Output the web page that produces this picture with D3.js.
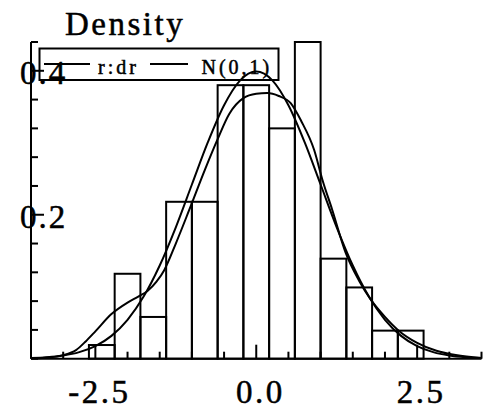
<!DOCTYPE html>
<html>
<head>
<meta charset="utf-8">
<script src="https://cdn.jsdelivr.net/npm/d3@7"></script>
<style>
  html, body { margin: 0; padding: 0; background: #fff; }
  svg { display: block; }
  text { font-family: "Liberation Serif", "DejaVu Serif", serif; fill: #000; stroke: #000; stroke-width: 0.5px; }
</style>
</head>
<body>
<svg id="chart" width="492" height="411"></svg>
<script>
// ---- data ----
const binEdges = [-2.6, -2.2, -1.8, -1.4, -1.0, -0.6, -0.2, 0.2, 0.6, 1.0, 1.4, 1.8, 2.2, 2.6];
const binDensity = [0.019, 0.118, 0.058, 0.218, 0.218, 0.38, 0.38, 0.32, 0.44, 0.139, 0.099, 0.039, 0.039];

// kernel density estimate "r:dr"
const kdeX = [-3.5, -3.2, -3.0, -2.8, -2.65, -2.5, -2.25, -2.0, -1.84, -1.69, -1.55, -1.43, -1.25, -1.04, -0.8, -0.6, -0.42, -0.2, 0.0, 0.17, 0.35, 0.535, 0.7, 0.9, 1.03, 1.18, 1.39, 1.6, 1.78, 2.0, 2.2, 2.5, 2.8, 3.1, 3.5];
const kdeY = [0.0005, 0.002, 0.005, 0.012, 0.024, 0.038, 0.062, 0.078, 0.086, 0.094, 0.107, 0.123, 0.16, 0.207, 0.262, 0.305, 0.34, 0.362, 0.368, 0.369, 0.365, 0.355, 0.33, 0.29, 0.248, 0.207, 0.147, 0.108, 0.082, 0.058, 0.04, 0.022, 0.011, 0.005, 0.001];

// N(0,1) curve
const normX = [-3.5, -3.25, -3.0, -2.75, -2.5, -2.25, -2.0, -1.75, -1.5, -1.25, -1.0, -0.75, -0.5, -0.25, 0.0, 0.25, 0.5, 0.75, 1.0, 1.25, 1.5, 1.75, 2.0, 2.25, 2.5, 2.75, 3.0, 3.25, 3.5];
const normY = [0.0009, 0.002, 0.0044, 0.0091, 0.0175, 0.0317, 0.054, 0.0863, 0.1295, 0.1826, 0.242, 0.3011, 0.3521, 0.3867, 0.3989, 0.3867, 0.3521, 0.3011, 0.242, 0.1826, 0.1295, 0.0863, 0.054, 0.0317, 0.0175, 0.0091, 0.0044, 0.002, 0.0009];

const xTicks = [-3.5, -3.0, -2.5, -2.0, -1.5, -1.0, -0.5, 0.0, 0.5, 1.0, 1.5, 2.0, 2.5, 3.0, 3.5];
const xMajor = [-2.5, 0.0, 2.5];
const xLabels = ["-2.5", "0.0", "2.5"];
const yTicks = [0, 0.04, 0.08, 0.12, 0.16, 0.2, 0.24, 0.28, 0.32, 0.36, 0.4, 0.44];
const yMajor = [0.2, 0.4];
const yLabels = ["0.2", "0.4"];
const legendNames = ["r:dr", "N(0,1)"];
const yTitle = "Density";

// ---- drawing ----
const svg = d3.select("#chart");
const x = d3.scaleLinear().domain([-3.5, 3.5]).range([31, 481.5]);
const y = d3.scaleLinear().domain([0, 0.44]).range([358.7, 42]);
const SW = 2;

// bars
const bars = binDensity.map((d, i) => ({ x0: binEdges[i], x1: binEdges[i + 1], d }));
svg.append("g").selectAll("rect").data(bars).join("rect")
  .attr("x", d => x(d.x0))
  .attr("y", d => y(d.d))
  .attr("width", d => x(d.x1) - x(d.x0))
  .attr("height", d => y(0) - y(d.d))
  .attr("fill", "none").attr("stroke", "#000").attr("stroke-width", SW);

// curves
const line = d3.line().x(d => x(d[0])).y(d => y(d[1])).curve(d3.curveMonotoneX);
svg.append("path").datum(kdeX.map((v, i) => [v, kdeY[i]]))
  .attr("d", line).attr("fill", "none").attr("stroke", "#000").attr("stroke-width", SW);
svg.append("path").datum(normX.map((v, i) => [v, normY[i]]))
  .attr("d", line).attr("fill", "none").attr("stroke", "#000").attr("stroke-width", SW);

// axes
const ax = svg.append("g").attr("stroke", "#000").attr("stroke-width", SW).attr("fill", "none");
ax.append("line").attr("x1", x(-3.5)).attr("x2", x(3.5)).attr("y1", y(0)).attr("y2", y(0));
ax.append("line").attr("x1", x(-3.5)).attr("x2", x(-3.5)).attr("y1", y(0)).attr("y2", y(0.44));
xTicks.forEach(t => {
  const len = xMajor.includes(t) ? 14 : 7;
  ax.append("line").attr("x1", x(t)).attr("x2", x(t)).attr("y1", y(0)).attr("y2", y(0) - len);
});
yTicks.forEach(t => {
  const len = yMajor.includes(t) ? 13 : 7;
  ax.append("line").attr("x1", x(-3.5)).attr("x2", x(-3.5) + len).attr("y1", y(t)).attr("y2", y(t));
});

// tick labels
svg.append("g").selectAll("text").data(xMajor).join("text")
  .attr("x", d => x(d) + 4).attr("y", 403)
  .attr("text-anchor", "middle")
  .style("font-size", "33px").style("letter-spacing", "2.5px")
  .text((d, i) => xLabels[i]);
svg.append("g").selectAll("text").data(yMajor).join("text")
  .attr("x", 20).attr("y", d => y(d) + 13)
  .style("font-size", "33px").style("letter-spacing", "2px")
  .text((d, i) => yLabels[i]);

// title
svg.append("text").attr("x", 65).attr("y", 35)
  .style("font-size", "33px").style("letter-spacing", "2.5px")
  .text(yTitle);

// legend
const lg = svg.append("g");
lg.append("rect").attr("x", 39.5).attr("y", 48.5).attr("width", 239).attr("height", 31.5)
  .attr("fill", "none").attr("stroke", "#000").attr("stroke-width", SW);
const legendItems = [
  { x1: 44, x2: 90, tx: 98 },
  { x1: 150, x2: 188, tx: 201.5 }
];
legendItems.forEach((it, i) => {
  lg.append("line").attr("x1", it.x1).attr("x2", it.x2).attr("y1", 64).attr("y2", 64)
    .attr("stroke", "#000").attr("stroke-width", SW);
  lg.append("text").attr("x", it.tx).attr("y", 74)
    .style("font-size", "20px").style("letter-spacing", "3px")
    .text(legendNames[i]);
});
</script>
</body>
</html>
